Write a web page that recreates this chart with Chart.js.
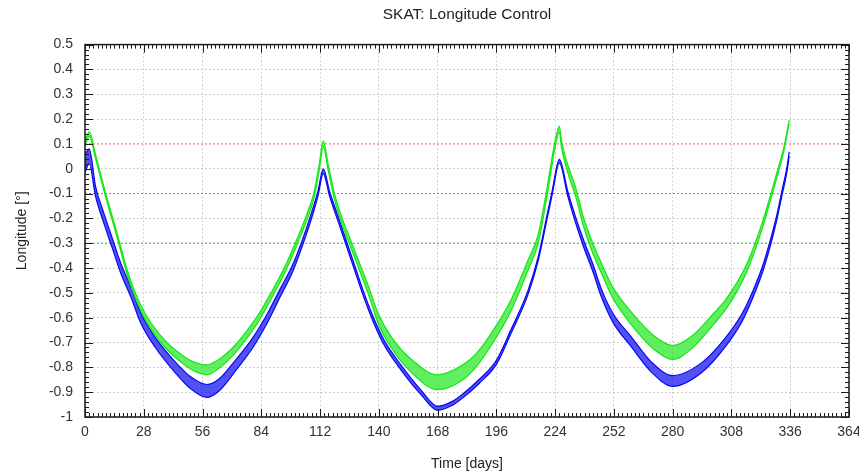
<!DOCTYPE html>
<html>
<head>
<meta charset="utf-8">
<script src="https://cdn.jsdelivr.net/npm/chart.js@4/dist/chart.umd.min.js"></script>
<style>
  html, body { margin: 0; padding: 0; background: #ffffff; }
  #wrap { width: 859px; height: 475px; }
</style>
</head>
<body>
<div id="wrap"><canvas id="chart" width="859" height="475"></canvas></div>
<script>
// Longitude of the two tracked positions over one year (days), with station-keeping
// manoeuvres near days 0, 112, 224 and 336. Each trace is given as its centre line
// and the half-height of the short-period wobble around it.
const greenDays = [0, 2, 5, 9, 13, 16, 19.5, 23.5, 29, 37.5,
  46, 52, 58, 64, 70, 76, 82, 88.5, 95, 100.5, 105,
  109, 111.5, 113.5, 116, 118.5, 122, 126.5, 131, 135.5, 139.5,
  146, 155, 168, 180, 187, 196, 203, 211, 216, 220,
  224, 226, 227, 230, 234, 237, 241, 246, 251.5, 260,
  271, 280, 289, 300, 305, 310, 315, 319, 323, 326.5, 329.5,
  333, 335.5];
const greenMid = [0.10, 0.14, 0.05, -0.08, -0.20, -0.29, -0.40, -0.50, -0.60, -0.70,
  -0.765, -0.797, -0.81, -0.785, -0.74, -0.68, -0.61, -0.515, -0.41, -0.305, -0.21,
  -0.11, 0.00, 0.10, 0.00, -0.10, -0.20, -0.30, -0.40, -0.50, -0.60,
  -0.70, -0.79, -0.86, -0.82, -0.765, -0.655, -0.55, -0.39, -0.28, -0.10,
  0.10, 0.16, 0.10, 0.00, -0.10, -0.20, -0.30, -0.40, -0.50, -0.60,
  -0.70, -0.74, -0.70, -0.60, -0.55, -0.485, -0.405, -0.32, -0.22, -0.12, -0.03,
  0.08, 0.19];
const greenSpread = [0.008, 0.01, 0.008, 0.008, 0.008, 0.008, 0.01, 0.01, 0.012, 0.014,
  0.016, 0.018, 0.02, 0.018, 0.016, 0.015, 0.014, 0.013, 0.012, 0.012, 0.012,
  0.012, 0.012, 0.012, 0.012, 0.012, 0.013, 0.014, 0.015, 0.017, 0.02,
  0.022, 0.026, 0.03, 0.03, 0.026, 0.024, 0.022, 0.02, 0.018, 0.016,
  0.014, 0.012, 0.014, 0.016, 0.018, 0.018, 0.02, 0.02, 0.022, 0.025,
  0.027, 0.028, 0.025, 0.022, 0.02, 0.018, 0.016, 0.014, 0.012, 0.01, 0.01,
  0.008, 0.006];

const blueDays = [0, 2, 5, 9, 13, 17, 22, 26.5, 33.5, 43,
  50, 58, 64, 71, 80, 87, 93, 99, 103.5, 107.5,
  111, 113.5, 116.5, 120.5, 124.5, 128.5, 132.5, 137, 142.5, 150.5,
  160, 168, 175, 180, 188, 196, 203, 211, 216, 220,
  222.5, 226, 230, 233.5, 237.5, 242, 246, 251.5, 260.5, 270,
  280, 294, 305, 313, 318.5, 323, 326.5, 329.5, 332, 334.5,
  335.5];
const blueMid = [0.02, 0.05, -0.09, -0.20, -0.30, -0.40, -0.50, -0.60, -0.70, -0.80,
  -0.86, -0.895, -0.87, -0.80, -0.70, -0.60, -0.50, -0.40, -0.30, -0.20,
  -0.10, -0.01, -0.10, -0.20, -0.30, -0.40, -0.50, -0.60, -0.70, -0.80,
  -0.90, -0.965, -0.945, -0.915, -0.855, -0.78, -0.655, -0.50, -0.36, -0.20,
  -0.10, 0.03, -0.10, -0.20, -0.30, -0.40, -0.50, -0.60, -0.70, -0.80,
  -0.855, -0.80, -0.70, -0.60, -0.50, -0.40, -0.30, -0.20, -0.10, 0.00,
  0.06];
const blueSpread = [0.035, 0.03, 0.02, 0.02, 0.02, 0.02, 0.02, 0.02, 0.02, 0.022,
  0.024, 0.026, 0.024, 0.022, 0.02, 0.018, 0.016, 0.014, 0.012, 0.012,
  0.01, 0.01, 0.01, 0.01, 0.01, 0.01, 0.01, 0.01, 0.01, 0.01,
  0.009, 0.008, 0.008, 0.008, 0.008, 0.008, 0.008, 0.008, 0.008, 0.008,
  0.008, 0.008, 0.01, 0.012, 0.014, 0.015, 0.016, 0.018, 0.02, 0.02,
  0.022, 0.02, 0.018, 0.016, 0.014, 0.012, 0.012, 0.01, 0.01, 0.01,
  0.008];

// Control-band limits drawn as dotted horizontal lines
const limitLevels = [0.1, -0.1, -0.3];

// Axis ranges and tick spacing
const dayRange = [0, 364];
const dayStep = 28;
const lonRange = [-1, 0.5];
const lonStep = 0.1;

const FONT = "'Liberation Sans', Arial, Helvetica, sans-serif";
const limitColors = ['#ff5a5a', '#ff30ff', '#3f9f3f'];

function envelope(days, mid, spread, sign) {
  return days.map((d, i) => ({ x: d, y: mid[i] + sign * spread[i] }));
}

function bandDatasets(days, mid, spread, line, fill) {
  const common = { borderColor: line, borderWidth: 1.2, pointRadius: 0,
                   cubicInterpolationMode: 'monotone' };
  return [
    { ...common, data: envelope(days, mid, spread, 1), fill: false },
    { ...common, data: envelope(days, mid, spread, -1), fill: '-1', backgroundColor: fill }
  ];
}

const limitDatasets = limitLevels.map((lv, i) => ({
  data: [{ x: dayRange[0], y: lv }, { x: dayRange[1], y: lv }],
  borderColor: limitColors[i], borderWidth: 1, borderDash: [2, 2],
  pointRadius: 0, fill: false
}));

// Inner tick marks on all four sides plus the plot frame
const frameTicks = {
  id: 'frameTicks',
  afterDatasetsDraw(chart) {
    const { ctx, chartArea: a, scales: { x, y } } = chart;
    ctx.save();
    ctx.strokeStyle = '#1a1a1a';
    ctx.lineWidth = 1;
    ctx.beginPath();
    for (let d = dayRange[0]; d <= dayRange[1] + 1e-9; d += 2) {
      const px = Math.round(x.getPixelForValue(d)) + 0.5;
      const len = (d % dayStep === 0) ? 8 : 4;
      ctx.moveTo(px, a.bottom); ctx.lineTo(px, a.bottom - len);
      ctx.moveTo(px, a.top); ctx.lineTo(px, a.top + len);
    }
    for (let k = 0; k <= 75; k++) {
      const v = lonRange[0] + k * 0.02;
      const py = Math.round(y.getPixelForValue(v)) + 0.5;
      const len = (k % 5 === 0) ? 8 : 4;
      ctx.moveTo(a.left, py); ctx.lineTo(a.left + len, py);
      ctx.moveTo(a.right, py); ctx.lineTo(a.right - len, py);
    }
    ctx.stroke();
    ctx.lineWidth = 1.5;
    ctx.strokeRect(a.left, a.top, a.right - a.left, a.bottom - a.top);
    ctx.restore();
  }
};

const isLimit = v => limitLevels.some(l => Math.abs(l - v) < 1e-6);

new Chart(document.getElementById('chart'), {
  type: 'line',
  data: {
    datasets: [
      ...bandDatasets(greenDays, greenMid, greenSpread, '#16e616', 'rgba(30,232,30,0.7)'),
      ...bandDatasets(blueDays, blueMid, blueSpread, '#0808f0', 'rgba(8,8,240,0.7)'),
      ...limitDatasets
    ]
  },
  options: {
    responsive: false,
    animation: false,
    events: [],
    layout: { padding: { left: 0, right: 10, top: 0, bottom: 0 } },
    plugins: {
      legend: { display: false },
      tooltip: { enabled: false },
      title: {
        display: true,
        fullSize: false,
        text: 'SKAT: Longitude Control',
        color: '#222',
        font: { family: FONT, size: 15.5, weight: 'normal' },
        padding: { top: 5, bottom: 21 }
      }
    },
    scales: {
      x: {
        type: 'linear',
        min: dayRange[0], max: dayRange[1],
        ticks: { stepSize: dayStep, autoSkip: false, maxRotation: 0, padding: 7,
                 color: '#333', font: { family: FONT, size: 14 } },
        grid: { color: '#c2c2c2', lineWidth: 1, drawTicks: false },
        border: { display: false, dash: [1.5, 2.5] },
        title: { display: true, text: 'Time [days]', color: '#222',
                 font: { family: FONT, size: 14 }, padding: { top: 0, bottom: 2 } },
        afterFit(s) { s.height = 58; s.paddingLeft = 0; s.paddingRight = 0; }
      },
      y: {
        min: lonRange[0], max: lonRange[1],
        ticks: { stepSize: lonStep, padding: 12, color: '#333',
                 font: { family: FONT, size: 14 },
                 callback: v => String(Math.round(v * 10) / 10) },
        grid: { color: c => (c.tick && isLimit(c.tick.value)) ? 'rgba(0,0,0,0)' : '#c2c2c2',
                lineWidth: 1, drawTicks: false },
        border: { display: false, dash: [1.5, 2.5] },
        title: { display: true, text: 'Longitude [°]', color: '#222',
                 font: { family: FONT, size: 14 }, padding: { top: 14, bottom: 0 } },
        afterFit(s) { s.width = 85; }
      }
    }
  },
  plugins: [frameTicks]
});
</script>
</body>
</html>
